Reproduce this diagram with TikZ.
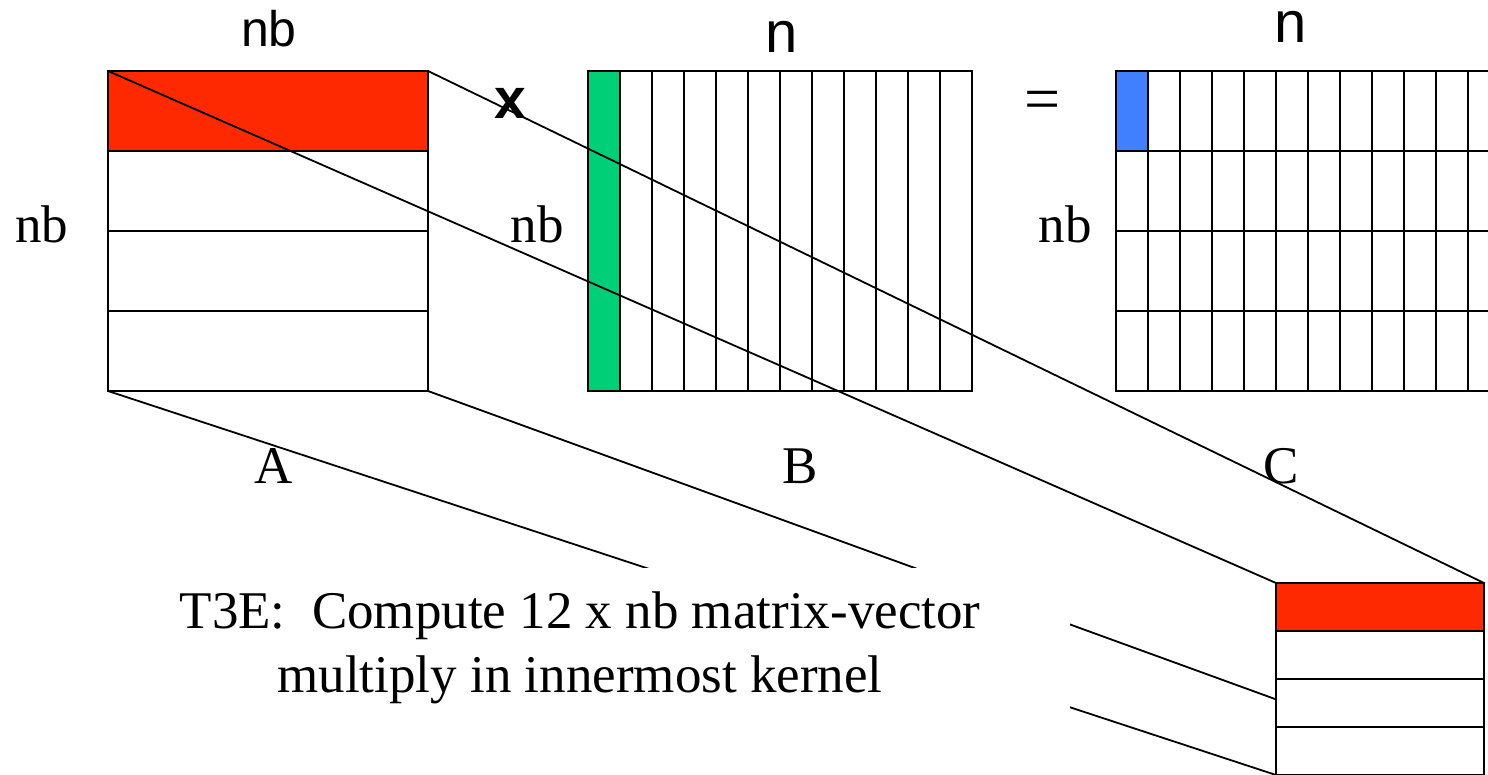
\documentclass[tikz,border=0pt]{standalone}
\usepackage{fontspec}
\setmainfont{Liberation Serif}
\setsansfont{Liberation Sans}
\usetikzlibrary{positioning}
\definecolor{blockred}{HTML}{FF2900}
\definecolor{colgreen}{HTML}{00CF78}
\definecolor{cellblue}{HTML}{4080FF}

\begin{document}
\begin{tikzpicture}[x=1pt,y=-1pt,grid/.style={draw=black,line width=1.8pt},mat/.style={draw=black,line width=1.8pt,inner sep=0pt,outer sep=0pt,anchor=north west},slot/.style={mat,draw=none},dim/.style={font=\fontsize{53}{64}\selectfont,anchor=base,inner sep=0pt},sdim/.style={font=\sffamily\fontsize{50}{54}\selectfont,anchor=base,inner sep=0pt},proj/.style={line width=1.8pt}]
 \clip (0,0) rectangle (1488,775);
 % A, one block row in red
 \fill[blockred] (108,71) rectangle (428,151);
 \foreach \y in {151,231,311} \draw[grid] (108,\y)--(428,\y);
 \node[mat,minimum width=320pt,minimum height=320pt] (A) at (108,71) {};
 % B, one column in green
 \fill[colgreen] (588,71) rectangle (620,391);
 \foreach \x in {620,652,...,940} \draw[grid] (\x,71)--(\x,391);
 \node[mat,minimum width=384pt,minimum height=320pt] (B) at (588,71) {};
 % C, one cell in blue
 \fill[cellblue] (1116,71) rectangle (1148,151);
 \foreach \x in {1148,1180,...,1468} \draw[grid] (\x,71)--(\x,391);
 \foreach \y in {151,231,311} \draw[grid] (1116,\y)--(1500,\y);
 \node[mat,minimum width=384pt,minimum height=320pt] (C) at (1116,71) {};
 \node[sdim] (nbA) at (269,47) {nb};
 \node[sdim,font=\sffamily\fontsize{58}{60}\selectfont] (nB) at (782,53) {n};
 \node[sdim,font=\sffamily\fontsize{58}{60}\selectfont] (nC) at (1291,43) {n};
 \node[dim] (rowA) at (42,243) {nb};
 \node[dim] (rowB) at (537,243) {nb};
 \node[dim] (rowC) at (1065,243) {nb};
 \node[sdim,font=\sffamily\bfseries\fontsize{57}{60}\selectfont] (times) at (510,119) {x};
 \node[dim,font=\fontsize{64}{66}\selectfont] (eq) at (1043,121) {=};
 \node[dim] (labA) at (274,483) {A};
 \node[dim] (labB) at (800,483) {B};
 \node[dim] (labC) at (1281,483) {C};
 % kernel block
 \node[slot,minimum width=208pt,minimum height=192pt] (K) at (1276,583) {};
 \draw[proj] (A.north west)--(K.north west);
 \draw[proj] (A.north east)--(K.north east);
 \draw[proj] (A.south west)--(K.south west);
 \draw[proj] (A.south east)--(K.south east);
 \fill[white] (K.north west) rectangle (K.south east);
 \fill[blockred] (K.north west) rectangle (1484,631);
 \foreach \y in {631,679,727} \draw[grid] (1276,\y)--(1484,\y);
 \draw[grid] (K.north west) rectangle (K.south east);
 \node[fill=white,minimum width=980pt,minimum height=160pt,align=center,font=\fontsize{53}{64}\selectfont] (cap) at (580,648) {T3E:\ \ Compute 12 x nb matrix-vector\\multiply in innermost kernel};
\end{tikzpicture}
\end{document}
